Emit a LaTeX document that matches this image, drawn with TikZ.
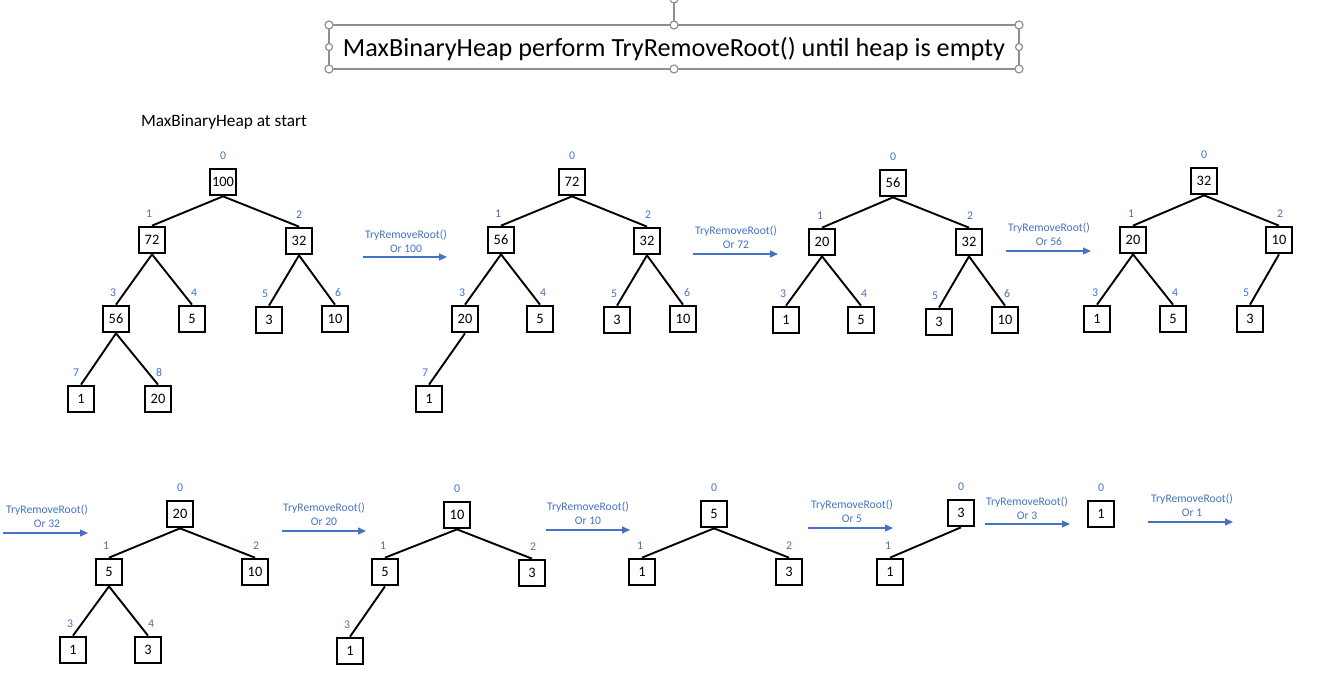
\documentclass[tikz,border=0pt]{standalone}
\usepackage{fontspec}
\setmainfont{Carlito}
\usetikzlibrary{arrows.meta,calc}
\definecolor{ablue}{HTML}{4472C4}
\definecolor{hgray}{HTML}{8F8F8F}
\newcommand\hn[6]{\node[hbox] (#1) at (#2,#3) {#4};\node[idx] (#1i) at ($(#1.center)+(#6,-26)$) {#5};}
\newcommand\ed[2]{\draw[edge] (#1.south) -- (#2.north);}
\newcommand\op[6]{\coordinate (#1s) at (#2,#4);\coordinate (#1e) at (#3,#4);\draw[arr] (#1s) -- (#1e);\node[optext] (#1t) at (#5,#6) {TryRemoveRoot()\\Or #1};}
\begin{document}
\begin{tikzpicture}[x=1pt,y=-1pt,
  hbox/.style={draw=black,line width=2.2pt,minimum width=26.5pt,minimum height=26.5pt,inner sep=0pt,font=\fontsize{14.4}{17}\selectfont},
  idx/.style={text=ablue,inner sep=0pt,font=\fontsize{11.8}{14}\selectfont},
  optext/.style={text=ablue,inner sep=0pt,align=center,font=\fontsize{11.6}{14}\selectfont},
  edge/.style={line width=1.9pt,black},
  arr/.style={draw=ablue,line width=1.1pt,-{Triangle[length=8pt,width=7pt]}},
  handle/.style={draw=hgray,fill=white,line width=1.2pt}]
\useasboundingbox (0,0) rectangle (1321,687);
% title frame
\draw[hgray,line width=1.2pt] (674,0) -- (674,25);
\draw[hgray,line width=1.2pt] (329,25) rectangle (1019,69);
\foreach \p in {(329,25),(674,25),(1019,25),(329,69),(674,69),(1019,69),(674,-1)}
  \draw[handle] \p circle (4);
\foreach \p in {(329,47),(1019,47)}
  \draw[handle] \p circle (3.5);
\node[anchor=base,inner sep=0pt,font=\fontsize{26.2}{30}\selectfont] (title) at (674,57) {MaxBinaryHeap perform TryRemoveRoot() until heap is empty};
\node[inner sep=0pt,font=\fontsize{17.3}{20}\selectfont] (head) at (224,122) {MaxBinaryHeap at start};
% tree 1
\hn{a0}{223}{182}{100}{0}{0}
\hn{a1}{152}{240}{72}{1}{-3}
\hn{a2}{299}{241}{32}{2}{0}
\hn{a3}{116}{319}{56}{3}{-3}
\hn{a4}{192}{319}{5}{4}{2}
\hn{a5}{269}{320}{3}{5}{-4}
\hn{a6}{335}{319}{10}{6}{3}
\hn{a7}{81}{399}{1}{7}{-5}
\hn{a8}{158}{399}{20}{8}{1}
\ed{a0}{a1}\ed{a0}{a2}\ed{a1}{a3}\ed{a1}{a4}\ed{a2}{a5}\ed{a2}{a6}\ed{a3}{a7}\ed{a3}{a8}
% tree 2
\hn{b0}{572}{182}{72}{0}{0}
\hn{b1}{501}{240}{56}{1}{-3}
\hn{b2}{647}{241}{32}{2}{1}
\hn{b3}{465}{319}{20}{3}{-3}
\hn{b4}{540}{319}{5}{4}{3}
\hn{b5}{617}{320}{3}{5}{-3}
\hn{b6}{683}{319}{10}{6}{4}
\hn{b7}{429}{399}{1}{7}{-4}
\ed{b0}{b1}\ed{b0}{b2}\ed{b1}{b3}\ed{b1}{b4}\ed{b2}{b5}\ed{b2}{b6}\ed{b3}{b7}
% tree 3
\hn{c0}{893}{183}{56}{0}{0}
\hn{c1}{822}{242}{20}{1}{-2}
\hn{c2}{969}{242}{32}{2}{1}
\hn{c3}{786}{320}{1}{3}{-3}
\hn{c4}{861}{320}{5}{4}{3}
\hn{c5}{939}{322}{3}{5}{-4}
\hn{c6}{1005}{320}{10}{6}{2}
\ed{c0}{c1}\ed{c0}{c2}\ed{c1}{c3}\ed{c1}{c4}\ed{c2}{c5}\ed{c2}{c6}
% tree 4
\hn{d0}{1204}{181}{32}{0}{0}
\hn{d1}{1133}{240}{20}{1}{-2}
\hn{d2}{1279}{240}{10}{2}{1}
\hn{d3}{1097}{319}{1}{3}{-2}
\hn{d4}{1173}{319}{5}{4}{2}
\hn{d5}{1250}{319}{3}{5}{-4}
\ed{d0}{d1}\ed{d0}{d2}\ed{d1}{d3}\ed{d1}{d4}\ed{d2}{d5}
% tree 5
\hn{e0}{180}{514}{20}{0}{0}
\hn{e1}{109}{572}{5}{1}{-3}
\hn{e2}{255}{572}{10}{2}{1}
\hn{e3}{73}{650}{1}{3}{-3}
\hn{e4}{148}{650}{3}{4}{3}
\ed{e0}{e1}\ed{e0}{e2}\ed{e1}{e3}\ed{e1}{e4}
% tree 6
\hn{f0}{457}{515}{10}{0}{0}
\hn{f1}{385}{572}{5}{1}{-2}
\hn{f2}{532}{573}{3}{2}{1}
\hn{f3}{350}{651}{1}{3}{-3}
\ed{f0}{f1}\ed{f0}{f2}\ed{f1}{f3}
% tree 7
\hn{g0}{714}{514}{5}{0}{0}
\hn{g1}{642}{572}{1}{1}{-2}
\hn{g2}{789}{572}{3}{2}{0}
\ed{g0}{g1}\ed{g0}{g2}
% tree 8
\hn{h0}{961}{513}{3}{0}{0}
\hn{h1}{890}{572}{1}{1}{-2}
\ed{h0}{h1}
% tree 9
\hn{i0}{1101}{514}{1}{0}{0}
% operations
\op{100}{363}{447}{257}{406}{241}
\op{72}{693}{778}{254}{736}{237.5}
\op{56}{1006}{1091}{251}{1049}{234}
\op{32}{3}{88}{533}{47}{516}
\op{20}{282}{366}{531}{324}{514}
\op{10}{546}{630}{530}{588}{513.5}
\op{5}{808}{893}{528}{852}{511}
\op{3}{985}{1070}{524}{1027}{508}
\op{1}{1148}{1233}{522}{1192}{505.5}
\end{tikzpicture}
\end{document}
